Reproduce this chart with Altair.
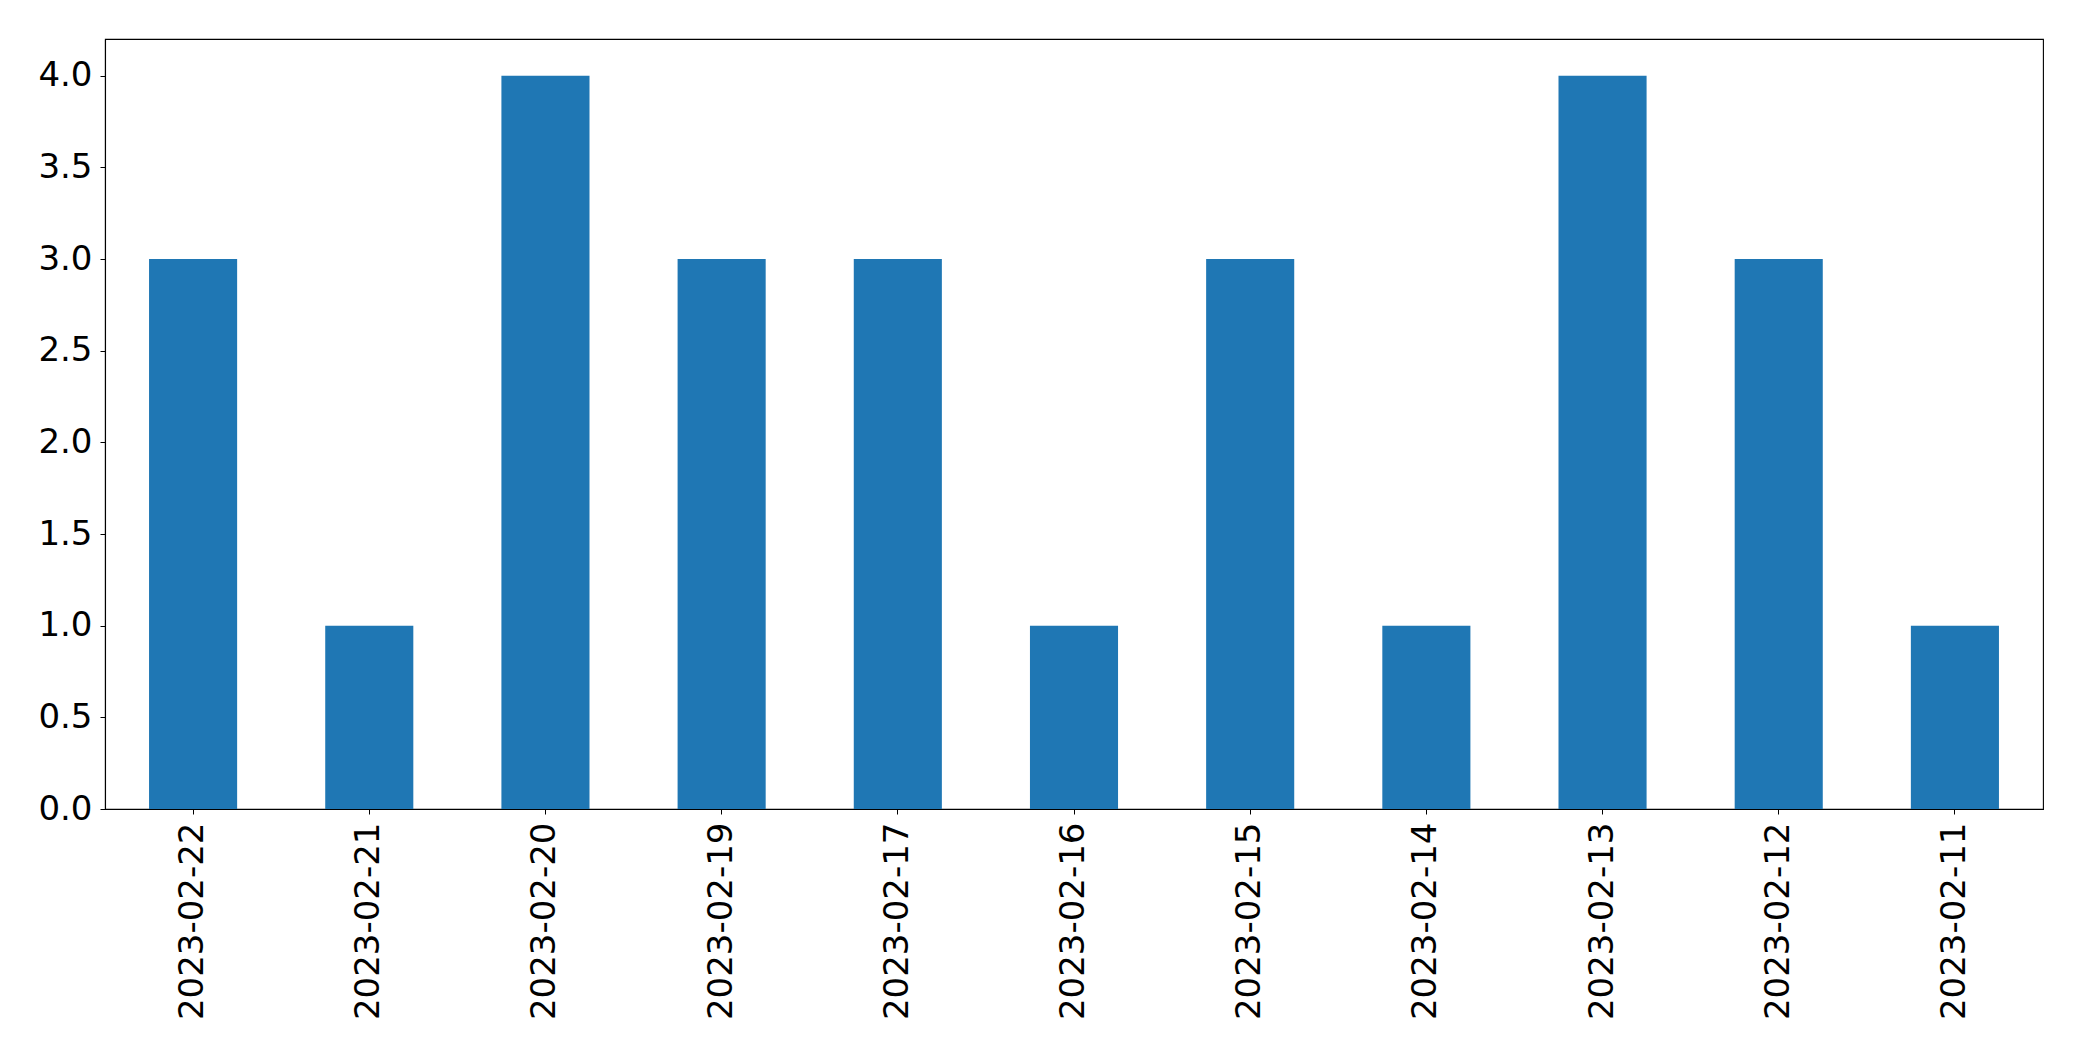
import altair as alt
import pandas as pd

dates = ["2023-02-22", "2023-02-21", "2023-02-20", "2023-02-19", "2023-02-17",
         "2023-02-16", "2023-02-15", "2023-02-14", "2023-02-13", "2023-02-12", "2023-02-11"]
counts = [3, 1, 4, 3, 3, 1, 3, 1, 4, 3, 1]
y_ticks = [0.0, 0.5, 1.0, 1.5, 2.0, 2.5, 3.0, 3.5, 4.0]

df = pd.DataFrame({"date": dates, "count": counts})

chart = alt.Chart(df).mark_bar(color="#1f77b4").encode(
    x=alt.X("date:N", sort=dates, title=None,
            scale=alt.Scale(paddingInner=0.5, paddingOuter=0.25),
            axis=alt.Axis(labelAngle=-90, labelFont="DejaVu Sans", labelFontSize=34,
                          labelColor="black", tickColor="black", tickSize=5,
                          domainColor="black", domainWidth=1.1, labelPadding=8,
                          labelLimit=0, grid=False)),
    y=alt.Y("count:Q", title=None,
            scale=alt.Scale(domain=[0, 4.2], nice=False, zero=True),
            axis=alt.Axis(values=y_ticks, format=".1f", labelFont="DejaVu Sans",
                          labelFontSize=34, labelColor="black", tickColor="black",
                          tickSize=5, domainColor="black", domainWidth=1.1,
                          labelPadding=8, labelLimit=0, grid=False)),
).properties(
    width=1938, height=770,
    autosize=alt.AutoSizeParams(type="none"),
    padding={"left": 97, "top": 31, "right": 30, "bottom": 240},
).configure_view(stroke="black", strokeWidth=1.1)

chart.save("out.html", embed_options={"renderer": "svg", "actions": False})
